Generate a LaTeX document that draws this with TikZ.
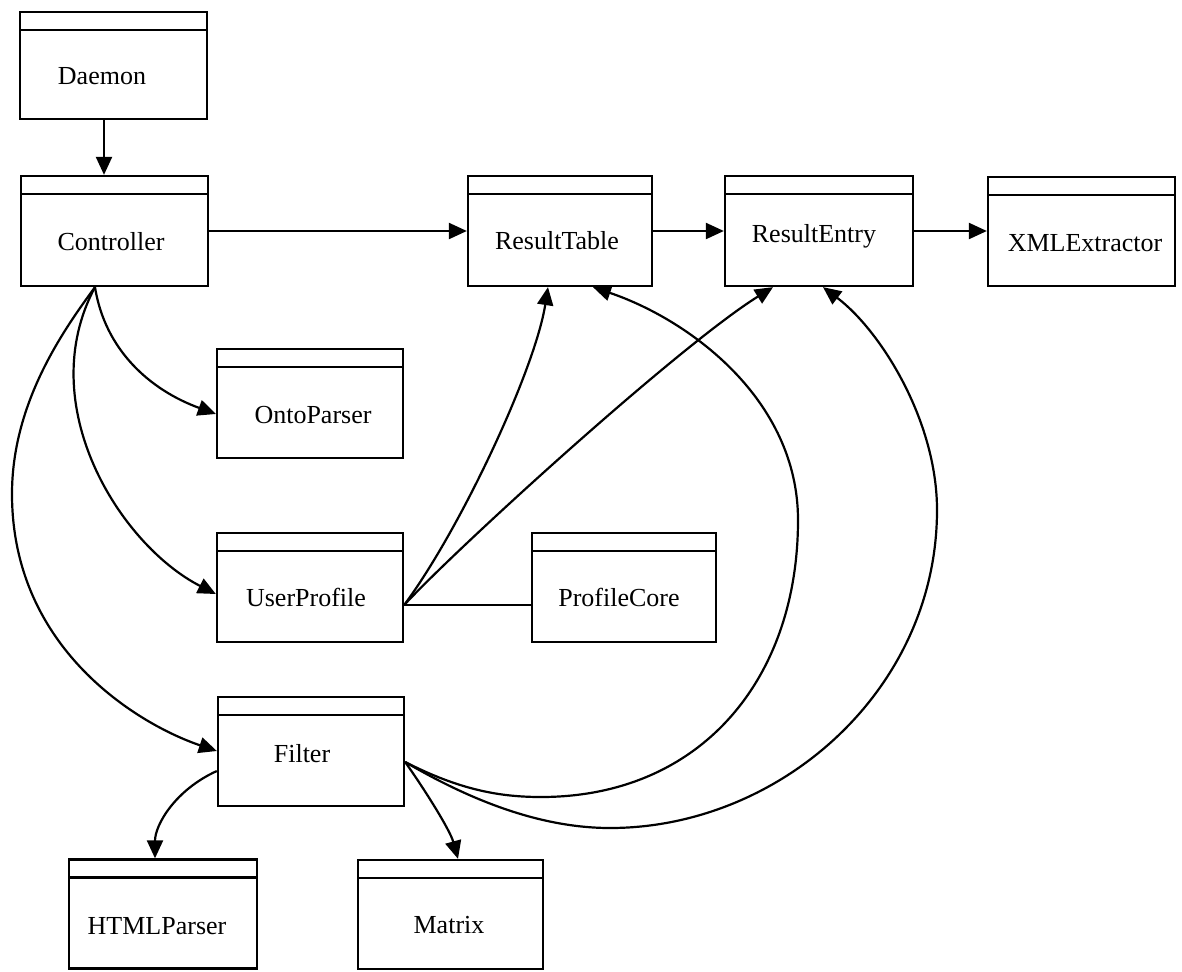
\documentclass[tikz,border=0pt]{standalone}
\usepackage{fontspec}
\setmainfont{Liberation Serif}
\usetikzlibrary{arrows.meta,calc}
\begin{document}
\begin{tikzpicture}[x=1pt,y=-1pt,
  classbox/.style={draw, line width=2.3pt, rectangle, inner sep=0pt,
    minimum width=187pt, minimum height=109pt,
    path picture={\draw[line width=2.3pt]
      ([yshift=-18pt]path picture bounding box.north west) --
      ([yshift=-18pt]path picture bounding box.north east);}},
  classname/.style={anchor=base, inner sep=0pt, font=\fontsize{26}{31}\selectfont},
  link/.style={line width=2.2pt, -{Triangle[length=18pt,width=16pt]}},
  plain/.style={line width=2.2pt}]

% canvas
\fill[white] (0,0) rectangle (1182,971);
\useasboundingbox (0,0) rectangle (1182,971);

% class boxes
\node[classbox, minimum height=107pt] (daemon) at (113.5,65.5) {};
\node[classbox, minimum height=110pt] (ctrl) at (114.5,231) {};
\node[classbox, minimum width=184pt, minimum height=110pt] (rtable) at (560,231) {};
\node[classbox, minimum width=188pt, minimum height=110pt] (rentry) at (819,231) {};
\node[classbox] (xml) at (1081.5,231.5) {};
\node[classbox, minimum width=186pt] (onto) at (310,403.5) {};
\node[classbox, minimum width=186pt] (user) at (310,587.5) {};
\node[classbox, minimum width=184pt] (core) at (624,587.5) {};
\node[classbox, minimum width=186pt] (filter) at (311,751.5) {};
\node[classbox, minimum width=188pt] (html) at (163,914) {};
\node[classbox, minimum width=185pt] (matrix) at (450.5,914.5) {};

% class names
\node[classname] (daemon-t) at (102,85) {Daemon};
\node[classname] (ctrl-t) at (111,250) {Controller};
\node[classname] (rtable-t) at (557,249) {ResultTable};
\node[classname] (rentry-t) at (814,242) {ResultEntry};
\node[classname] (xml-t) at (1085,251) {XMLExtractor};
\node[classname] (onto-t) at (313,423) {OntoParser};
\node[classname] (user-t) at (306,606) {UserProfile};
\node[classname] (core-t) at (619,606) {ProfileCore};
\node[classname] (filter-t) at (302,762) {Filter};
\node[classname] (html-t) at (157,934) {HTMLParser};
\node[classname] (matrix-t) at (449,933) {Matrix};

% shared connector ends
\coordinate (ctrl-b) at ($(ctrl.south)+(-19.5,0)$);
\coordinate (user-r) at ($(user.east)+(0,17.5)$);
\coordinate (filter-r) at ($(filter.east)+(0,10.5)$);

% straight links
\draw[link] ($(daemon.south)+(-9.5,0)$) -- ($(ctrl.north)+(-10.5,0)$);
\draw[link] (ctrl.east) -- (rtable.west);
\draw[link] (rtable.east) -- (rentry.west);
\draw[link] (rentry.east) -- (xml.west |- rentry.east);
\draw[plain] (user-r) -- (core.west |- user-r);

% Controller fan-out
\draw[link] (ctrl-b) .. controls (105,350) and (150,390) .. ($(onto.west)+(0,10.5)$);
\draw[link] (ctrl-b) .. controls (32,405) and (120,545) .. ($(user.west)+(0,6.5)$);
\draw[link] (ctrl-b) .. controls (62,332) and (12,404) .. (12,494)
  .. controls (12,650) and (140,725) .. ($(filter.west)+(0,-0.5)$);

% UserProfile to the result classes
\draw[link] (user-r) .. controls (460,530) and (535,370) .. ($(rtable.south)+(-12,0)$);
\draw[link] (user-r) .. controls (460,545) and (680,345) .. ($(rentry.south)+(-46,0)$);

% Filter links
\draw[link] ($(filter.west)+(0,19.5)$) .. controls (175,790) and (155,825) .. ($(html.north)+(-8,0)$);
\draw[link] (filter-r) .. controls (425,790) and (450,830) .. ($(matrix.north)+(7.5,0)$);
\draw[link] (filter-r) .. controls (460,790) and (500,797) .. (541,797)
  .. controls (700,797) and (798,680) .. (798,520)
  .. controls (798,400) and (690,320) .. ($(rtable.south)+(33,0)$);
\draw[link] (filter-r) .. controls (470,800) and (540,828) .. (610,828)
  .. controls (780,828) and (937,690) .. (937,510)
  .. controls (937,420) and (880,330) .. ($(rentry.south)+(4,0)$);
\end{tikzpicture}
\end{document}
